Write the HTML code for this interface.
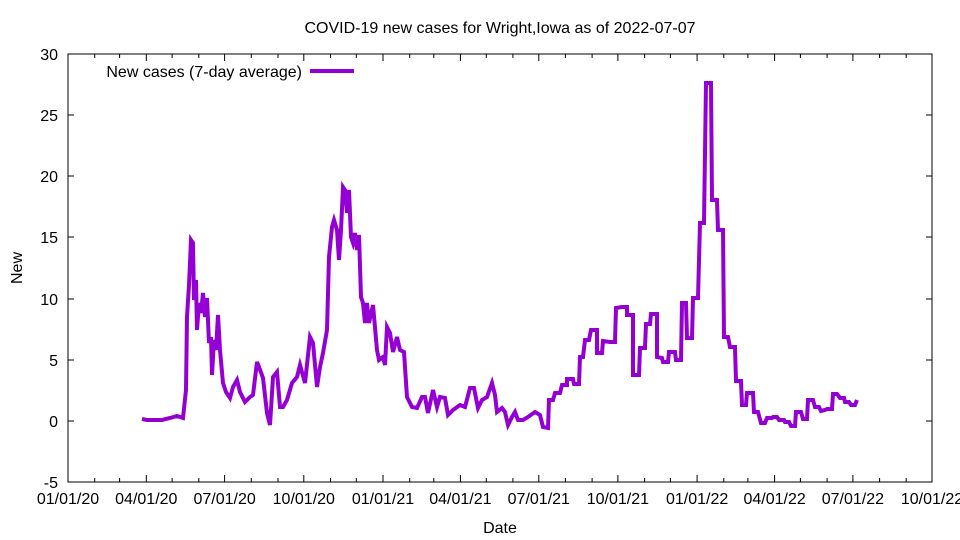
<!DOCTYPE html>
<html><head><meta charset="utf-8"><style>body{margin:0;background:#fff}svg{display:block}text{font-family:"Liberation Sans",sans-serif;font-size:16px;fill:#000}</style></head><body>
<svg width="960" height="540" viewBox="0 0 960 540" xmlns="http://www.w3.org/2000/svg">
<rect x="68" y="54" width="864" height="428" fill="none" stroke="#000" stroke-width="1"/>
<g stroke="#000" stroke-width="1">
<path d="M68 54h6M68 115h6M68 176h6M68 237h6M68 299h6M68 360h6M68 421h6M68 482h6M932 54h-6M932 115h-6M932 176h-6M932 237h-6M932 299h-6M932 360h-6M932 421h-6M932 482h-6"/>
<path d="M68 482v-7M146.3 482v-7M224.6 482v-7M303.8 482v-7M383 482v-7M460.4 482v-7M538.8 482v-7M617.9 482v-7M697.1 482v-7M774.6 482v-7M852.9 482v-7M68 54v7M146.3 54v7M224.6 54v7M303.8 54v7M383 54v7M460.4 54v7M538.8 54v7M617.9 54v7M697.1 54v7M774.6 54v7M852.9 54v7"/>
<path d="M94.7 482v-4M119.6 482v-4M172.1 482v-4M198.8 482v-4M251.3 482v-4M278 482v-4M330.5 482v-4M356.3 482v-4M409.7 482v-4M433.8 482v-4M486.3 482v-4M512.9 482v-4M565.4 482v-4M592.1 482v-4M644.6 482v-4M670.4 482v-4M723.8 482v-4M747.9 482v-4M800.4 482v-4M827.1 482v-4M879.6 482v-4M906.2 482v-4
M94.7 54v4M119.6 54v4M172.1 54v4M198.8 54v4M251.3 54v4M278 54v4M330.5 54v4M356.3 54v4M409.7 54v4M433.8 54v4M486.3 54v4M512.9 54v4M565.4 54v4M592.1 54v4M644.6 54v4M670.4 54v4M723.8 54v4M747.9 54v4M800.4 54v4M827.1 54v4M879.6 54v4M906.2 54v4"/>
</g>
<g text-anchor="end">
<text x="58" y="60">30</text><text x="58" y="121">25</text><text x="58" y="182">20</text><text x="58" y="243">15</text><text x="58" y="305">10</text><text x="58" y="366">5</text><text x="58" y="427">0</text><text x="58" y="488">-5</text>
</g>
<g text-anchor="middle">
<text x="68" y="504">01/01/20</text><text x="146.3" y="504">04/01/20</text><text x="224.6" y="504">07/01/20</text><text x="303.8" y="504">10/01/20</text><text x="383" y="504">01/01/21</text><text x="460.4" y="504">04/01/21</text><text x="538.8" y="504">07/01/21</text><text x="617.9" y="504">10/01/21</text><text x="697.1" y="504">01/01/22</text><text x="774.6" y="504">04/01/22</text><text x="852.9" y="504">07/01/22</text><text x="932" y="504">10/01/22</text>
<text x="500" y="33">COVID-19 new cases for Wright,Iowa as of 2022-07-07</text>
<text x="500" y="533">Date</text>
<text transform="translate(22,268) rotate(-90)">New</text>
</g>
<text x="302" y="77" text-anchor="end">New cases (7-day average)</text>
<line x1="310" y1="71" x2="354" y2="71" stroke="#9400d3" stroke-width="4"/>
<polyline fill="none" stroke="#9400d3" stroke-width="4" stroke-linejoin="miter" points="142,419 147,420 162,420 170,418 177,416 183,418 186,390 187,317 189,285 191,240 193,243 194,300 196,280 197,330 199,303 201,313 203,293 205,317 207,298 209,343 211,337 212,375 214,340 216,350 218,315 220,350 223,383 226,392 230,398 233,387 237,380 240,392 245,402 250,397 253,395 257,362 259,367 263,378 267,413 270,425 273,377 277,372 280,407 283,407 287,400 292,383 297,377 300,365 305,383 310,337 313,343 317,387 320,367 323,353 327,330 329,257 332,227 334,220 337,230 339,260 341,230 343,187 345,190 347,213 349,190 351,237 353,243 355,233 357,250 359,235 361,297 363,303 365,323 367,303 369,323 373,305 377,350 379,360 383,357 385,365 387,327 390,333 393,352 397,337 400,350 404,352 407,397 412,407 417,408 422,397 425,397 428,413 433,390 437,407 440,397 445,398 448,415 453,410 460,405 465,407 470,388 474,388 478,408 482,400 487,397 492,383 495,395 497,412 502,408 505,412 508,425 512,417 515,412 518,420 523,420 528,417 535,412 540,415 543,427 548,428 549,400 553,400 555,393 560,393 562,385 567,385 567,379 573,379 574,384 579,384 580,357 583,357 585,340 589,340 591,330 597,330 597,353 602,353 603,341 610,342 615,342 616,308 622,307 627,307 627,315 633,315 633,375 639,375 640,348 645,348 646,324 650,324 651,314 657,314 657,357 662,358 663,362 668,362 669,352 675,352 676,360 681,360 682,303 686,303 687,338 692,338 693,298 698,298 700,223 704,223 706,83 711,83 712,200 717,200 718,230 723,230 724,337 728,337 730,347 735,347 736,381 741,381 742,405 746,405 747,393 753,393 754,412 758,412 761,423 765,423 767,418 772,418 773,417 777,417 779,420 784,420 785,422 789,422 791,426 795,426 796,412 801,412 803,419 807,419 808,400 813,400 815,407 819,407 821,411 825,410 827,409 832,409 833,394 837,394 840,398 844,398 845,402 849,402 851,405 855,405 857,400"/>
</svg>
</body></html>
